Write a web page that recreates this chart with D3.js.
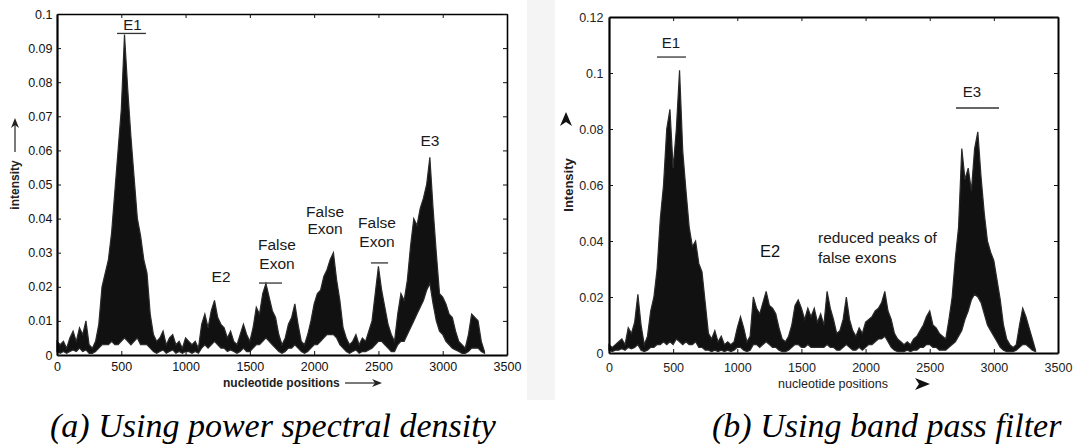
<!DOCTYPE html>
<html><head><meta charset="utf-8">
<script src="https://cdn.jsdelivr.net/npm/d3@7"></script>
<style>body{margin:0;background:#fff}svg{display:block}</style>
</head><body>
<svg id="c" width="1075" height="447"></svg>
<script>
// nucleotide sample positions (every 25 nt)
const positions = d3.range(0, 3326, 25);

// (a) power spectral density: upper / lower envelope of the dense signal
const psdUpper = [
0.004,0.003,0.004,0.002,0.005,0.007,0.004,0.008,0.006,0.010,
0.003,0.002,0.004,0.009,0.020,0.024,0.028,0.036,0.048,0.060,
0.072,0.094,0.078,0.064,0.052,0.040,0.035,0.028,0.024,0.012,
0.006,0.004,0.005,0.007,0.003,0.005,0.006,0.003,0.004,0.002,
0.005,0.004,0.003,0.004,0.002,0.009,0.012,0.008,0.013,0.016,
0.011,0.009,0.008,0.005,0.007,0.004,0.003,0.006,0.009,0.006,
0.004,0.008,0.014,0.012,0.018,0.021,0.017,0.013,0.011,0.006,
0.003,0.005,0.009,0.011,0.015,0.009,0.004,0.003,0.006,0.010,
0.015,0.018,0.019,0.023,0.025,0.028,0.030,0.022,0.016,0.008,
0.005,0.003,0.004,0.006,0.003,0.005,0.004,0.007,0.010,0.018,
0.026,0.019,0.014,0.009,0.006,0.004,0.012,0.018,0.016,0.022,
0.032,0.040,0.038,0.043,0.046,0.050,0.058,0.043,0.030,0.018,
0.017,0.015,0.012,0.011,0.007,0.004,0.003,0.002,0.006,0.012,
0.011,0.010,0.004,0.001];
const psdLower = [
0.001,0.0005,0.001,0.0005,0.001,0.0015,0.001,0.002,0.001,0.0015,
0.0005,0.0005,0.001,0.002,0.003,0.003,0.003,0.004,0.003,0.003,
0.004,0.005,0.004,0.003,0.004,0.005,0.003,0.003,0.003,0.002,
0.001,0.0005,0.001,0.0015,0.0005,0.001,0.0015,0.0005,0.001,0.0005,
0.001,0.001,0.0005,0.001,0.0005,0.002,0.003,0.002,0.003,0.004,
0.003,0.002,0.002,0.001,0.0015,0.001,0.0005,0.001,0.002,0.001,
0.001,0.002,0.003,0.003,0.004,0.005,0.004,0.003,0.002,0.001,
0.0005,0.001,0.002,0.002,0.003,0.002,0.001,0.0005,0.001,0.002,
0.003,0.003,0.004,0.005,0.006,0.006,0.006,0.005,0.003,0.002,
0.001,0.0005,0.001,0.0015,0.0005,0.001,0.001,0.0015,0.002,0.003,
0.004,0.004,0.003,0.002,0.001,0.001,0.003,0.004,0.004,0.006,
0.008,0.010,0.012,0.014,0.016,0.019,0.021,0.015,0.010,0.007,
0.006,0.004,0.003,0.002,0.0015,0.001,0.0005,0.0005,0.001,0.002,
0.002,0.002,0.001,0.0005];

// (b) band pass filter: upper / lower envelope
const bpfUpper = [
0.003,0.002,0.003,0.004,0.005,0.003,0.009,0.007,0.011,0.021,
0.010,0.003,0.006,0.015,0.020,0.030,0.048,0.060,0.080,0.087,
0.066,0.080,0.101,0.072,0.058,0.045,0.038,0.040,0.032,0.029,
0.018,0.007,0.005,0.008,0.004,0.006,0.003,0.004,0.003,0.004,
0.009,0.013,0.009,0.004,0.006,0.020,0.016,0.014,0.018,0.022,
0.017,0.016,0.014,0.009,0.005,0.004,0.006,0.010,0.017,0.019,
0.016,0.012,0.016,0.013,0.016,0.011,0.014,0.010,0.022,0.016,
0.012,0.007,0.008,0.012,0.020,0.012,0.008,0.006,0.009,0.007,
0.011,0.012,0.013,0.015,0.016,0.018,0.022,0.015,0.012,0.007,
0.005,0.004,0.003,0.004,0.003,0.005,0.006,0.008,0.010,0.013,
0.015,0.010,0.009,0.007,0.006,0.005,0.012,0.020,0.034,0.045,
0.073,0.062,0.066,0.058,0.073,0.079,0.063,0.050,0.040,0.036,
0.033,0.026,0.019,0.010,0.005,0.003,0.002,0.003,0.010,0.016,
0.013,0.009,0.005,0.001];
const bpfLower = [
0.001,0.0005,0.001,0.001,0.0015,0.001,0.002,0.0015,0.002,0.003,
0.001,0.0005,0.001,0.002,0.002,0.003,0.003,0.004,0.003,0.004,
0.003,0.005,0.004,0.003,0.004,0.003,0.003,0.004,0.002,0.002,
0.001,0.001,0.0005,0.001,0.0005,0.001,0.0005,0.001,0.0005,0.001,
0.002,0.002,0.001,0.0005,0.001,0.003,0.003,0.002,0.003,0.004,
0.003,0.002,0.002,0.001,0.0005,0.0005,0.001,0.002,0.003,0.003,
0.002,0.002,0.003,0.002,0.002,0.002,0.002,0.002,0.003,0.002,
0.002,0.001,0.001,0.002,0.003,0.002,0.001,0.001,0.002,0.001,
0.002,0.003,0.003,0.004,0.005,0.005,0.006,0.004,0.002,0.001,
0.0005,0.0005,0.0005,0.001,0.0005,0.001,0.001,0.002,0.002,0.003,
0.003,0.002,0.002,0.001,0.001,0.001,0.002,0.003,0.004,0.006,
0.008,0.012,0.015,0.019,0.021,0.020,0.018,0.014,0.010,0.008,
0.006,0.004,0.002,0.001,0.0005,0.0005,0.0005,0.001,0.002,0.003,
0.003,0.002,0.001,0.0005];

const xTicks = [0,500,1000,1500,2000,2500,3000,3500];
const yTicksA = [0,0.01,0.02,0.03,0.04,0.05,0.06,0.07,0.08,0.09,0.1];
const yTicksB = [0,0.02,0.04,0.06,0.08,0.1,0.12];
const yLabelsA = ["0","0.01","0.02","0.03","0.04","0.05","0.06","0.07","0.08","0.09","0.1"];
const yLabelsB = ["0","0.02","0.04","0.06","0.08","0.1","0.12"];
const captionA = "(a) Using power spectral density";
const captionB = "(b) Using band pass filter";

const svg = d3.select("#c");
const SANS = "'Liberation Sans', Arial, Helvetica, sans-serif";

// light grey strip between the two scanned panels
svg.append("rect").attr("x",527).attr("y",0).attr("width",28).attr("height",400).attr("fill","#f4f4f4");

function panel(o){
  const x = d3.scaleLinear([0,3500],[o.x0,o.x1]);
  const y = d3.scaleLinear([0,o.ymax],[o.y1,o.y0]);
  const g = svg.append("g");
  const area = d3.area()
    .x((d,i)=>x(positions[i]))
    .y0((d,i)=>y(o.lower[i]))
    .y1(d=>y(d));
  g.append("path").datum(o.upper).attr("d",area)
    .attr("fill","#111").attr("stroke","#2a2a2a").attr("stroke-width",1.2).attr("stroke-linejoin","miter");

  const fmt = (d)=> o.ylabels[o.yticks.indexOf(d)];
  const axB = g.append("g").attr("transform",`translate(0,${o.y1})`)
    .call(d3.axisBottom(x).tickValues(xTicks).tickFormat(d3.format("d")).tickSizeInner(-4).tickSizeOuter(0).tickPadding(o.xpad));
  const axL = g.append("g").attr("transform",`translate(${o.x0},0)`)
    .call(d3.axisLeft(y).tickValues(o.yticks).tickFormat(fmt).tickSizeInner(-4).tickSizeOuter(0).tickPadding(o.ypad));
  const axT = g.append("g").attr("transform",`translate(0,${o.y0})`)
    .call(d3.axisTop(x).tickValues(xTicks).tickFormat("").tickSizeInner(-4).tickSizeOuter(0));
  const axR = g.append("g").attr("transform",`translate(${o.x1},0)`)
    .call(d3.axisRight(y).tickValues(o.yticks).tickFormat("").tickSizeInner(-4).tickSizeOuter(0));
  [axB,axL,axT,axR].forEach(a=>{
    a.selectAll("text").attr("font-family",SANS).attr("font-size",12.5).attr("fill",o.tcol);
    a.selectAll(".tick line").attr("stroke","#111").attr("stroke-width",1);
  });
  axB.select(".domain").attr("stroke","#000").attr("stroke-width",2.2);
  axL.select(".domain").attr("stroke","#000").attr("stroke-width",2.2);
  axT.select(".domain").attr("stroke","#000").attr("stroke-width",o.frameW);
  axR.select(".domain").attr("stroke","#000").attr("stroke-width",o.frameW);
  return {x,y,g};
}

const A = panel({x0:57,x1:507,y0:14,y1:355,ymax:0.1,upper:psdUpper,lower:psdLower,
  yticks:yTicksA,ylabels:yLabelsA,xpad:7,ypad:4.5,tcol:"#111",frameW:1.6});
const B = panel({x0:609,x1:1058,y0:17,y1:353,ymax:0.12,upper:bpfUpper,lower:bpfLower,
  yticks:yTicksB,ylabels:yLabelsB,xpad:10,ypad:5.5,tcol:"#222",frameW:2});

function label(P,str,nt,v,opts={}){
  P.g.append("text").attr("x",P.x(nt)).attr("y",P.y(v)).text(str)
    .attr("text-anchor",opts.anchor||"middle").attr("font-family",SANS)
    .attr("font-size",opts.size||15).attr("font-weight",opts.weight||"normal")
    .attr("fill",opts.fill||"#1a1a1a");
}
function bar(P,n0,n1,v){
  P.g.append("line").attr("x1",P.x(n0)).attr("x2",P.x(n1)).attr("y1",P.y(v)).attr("y2",P.y(v))
    .attr("stroke","#333").attr("stroke-width",1.3);
}

// annotations (a)
label(A,"E1",587,0.0952,{size:15}); bar(A,467,692,0.0943);
label(A,"E2",1276,0.0214,{size:15.5});
label(A,"False",1711,0.0308,{size:15.5}); label(A,"Exon",1711,0.0252,{size:15.5}); bar(A,1571,1750,0.0211);
label(A,"False",2085,0.0404,{size:15.5}); label(A,"Exon",2085,0.0355,{size:15.5});
label(A,"False",2489,0.0372,{size:15.5}); label(A,"Exon",2489,0.0316,{size:15.5}); bar(A,2442,2575,0.0270);
label(A,"E3",2901,0.0612,{size:15.5});

// annotations (b)
label(B,"E1",483,0.1089,{size:15}); bar(B,374,600,0.1057);
label(B,"E3",2830,0.0914,{size:15}); bar(B,2705,3040,0.0875);
label(B,"E2",1255,0.0343,{size:16.5,fill:"#111"});
label(B,"reduced peaks of",1629,0.0393,{size:15.5,anchor:"start"});
label(B,"false exons",1629,0.0321,{size:15.5,anchor:"start"});

// axis titles (a)
svg.append("text").attr("x",223).attr("y",387).text("nucleotide positions")
  .attr("font-family",SANS).attr("font-weight","bold").attr("font-size",12).attr("fill","#222");
svg.append("line").attr("x1",345).attr("x2",376).attr("y1",383).attr("y2",383).attr("stroke","#222").attr("stroke-width",1.2);
svg.append("path").attr("d","M382,383 L372,379 L375,383 L372,387 Z").attr("fill","#222");
svg.append("text").attr("transform","translate(19,185) rotate(-90)").attr("text-anchor","middle").text("intensity")
  .attr("font-family",SANS).attr("font-weight","bold").attr("font-size",12).attr("fill","#222");
svg.append("line").attr("x1",15).attr("x2",15).attr("y1",152).attr("y2",125).attr("stroke","#222").attr("stroke-width",1.2);
svg.append("path").attr("d","M15,118 L11,128 L15,125 L19,128 Z").attr("fill","#222");

// axis titles (b)
svg.append("text").attr("x",833).attr("y",388).attr("text-anchor","middle").text("nucleotide positions")
  .attr("font-family",SANS).attr("font-size",12.5).attr("fill","#222");
svg.append("path").attr("d","M930,384 L915,378 L919,384 L915,390 Z").attr("fill","#111");
svg.append("text").attr("transform","translate(573,185) rotate(-90)").attr("text-anchor","middle").text("Intensity")
  .attr("font-family",SANS).attr("font-weight","bold").attr("font-size",13).attr("fill","#222");
svg.append("path").attr("d","M566,112 L560,126 L566,122 L572,126 Z").attr("fill","#111");

// captions
const SERIF = "'Liberation Serif','Times New Roman',Times,serif";
svg.append("text").attr("x",50).attr("y",437).text(captionA)
  .attr("font-family",SERIF).attr("font-style","italic").attr("font-size",34).attr("fill","#000");
svg.append("text").attr("x",712).attr("y",437).text(captionB)
  .attr("font-family",SERIF).attr("font-style","italic").attr("font-size",34).attr("fill","#000");
</script>
</body></html>
